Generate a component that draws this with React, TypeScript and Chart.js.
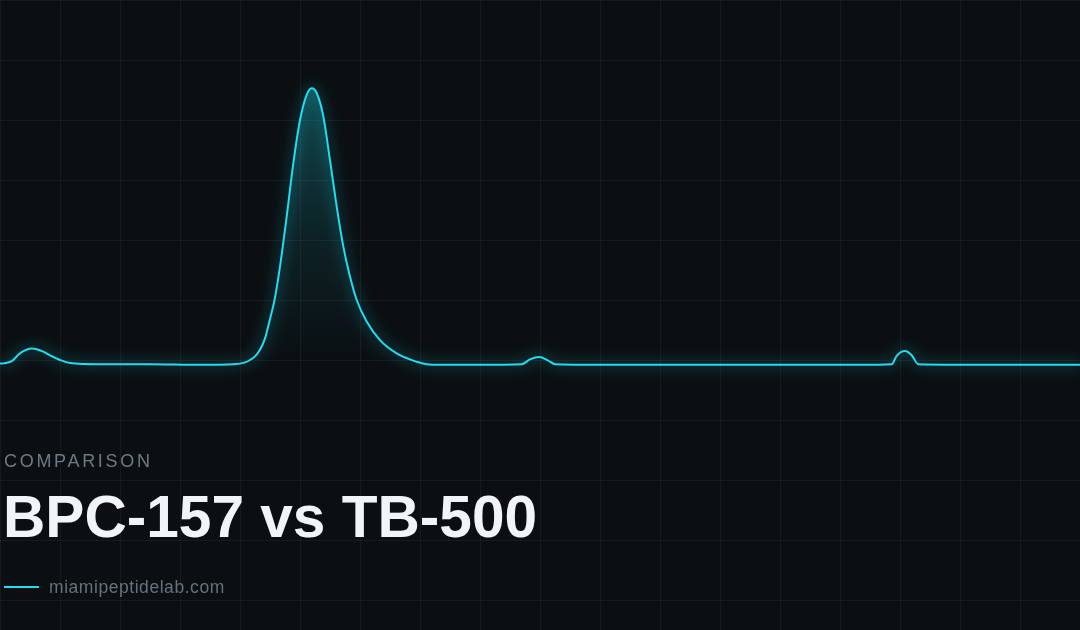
import React, { useEffect, useRef } from "react";
import { Chart, registerables } from "chart.js";

Chart.register(...registerables);

// Retention time (min) and detector signal (mAU)
const retentionTimes: number[] = [
  0, 0.1, 0.195, 0.333, 0.528, 0.722, 0.85, 1.0, 1.167, 1.667, 2.5, 3.333, 3.9, 4.083, 4.167,
  4.25, 4.333, 4.417, 4.5, 4.583, 4.667, 4.778, 4.889, 5.0, 5.111, 5.195, 5.278, 5.389, 5.5,
  5.611, 5.722, 5.833, 5.945, 6.111, 6.333, 6.611, 6.945, 7.111, 7.333, 8.0, 8.695, 8.833,
  8.988, 9.138, 9.25, 10.0, 14.333, 14.862, 14.945, 15.083, 15.195, 15.305, 16.333, 18.0,
];
const signalValues: number[] = [
  394, 395, 398, 411, 419, 414, 407, 400, 395, 393, 393, 392, 393, 396, 400,
  406, 417, 436, 468, 504, 556, 639, 728, 800, 842, 853, 845, 806, 733,
  656, 589, 539, 500, 464, 433, 411, 397, 393, 392, 392, 393, 401,
  405, 399, 393, 392, 392, 393, 407, 415, 408, 393, 392, 392,
];

const eyebrow = "COMPARISON";
const title = "BPC-157 vs TB-500";
const legendLabel = "miamipeptidelab.com";

const CYAN = "#22dcef";
const BG = "#0b0f12";
const GRID = "rgba(148,163,184,0.08)";
const FONT = '"Liberation Sans", Arial, Helvetica, sans-serif';

const glowPlugin = {
  id: "glow",
  beforeDatasetDraw(chart: any, args: any) {
    if (args.index === 1) {
      const c = chart.ctx;
      c.save();
      c.shadowColor = "rgba(34,220,239,0.8)";
      c.shadowBlur = 14;
    }
  },
  afterDatasetDraw(chart: any, args: any) {
    if (args.index === 1) {
      chart.ctx.restore();
    }
  },
};

export default function App() {
  const canvasRef = useRef<HTMLCanvasElement | null>(null);

  useEffect(() => {
    const canvas = canvasRef.current;
    if (!canvas) return;
    const points = retentionTimes.map((t, i) => ({ x: t, y: signalValues[i] }));

    const chart = new Chart(canvas, {
      type: "line",
      data: {
        datasets: [
          {
            data: points,
            borderWidth: 0,
            pointRadius: 0,
            fill: "start",
            cubicInterpolationMode: "monotone",
            backgroundColor: (ctx: any) => {
              const ch = ctx.chart;
              const area = ch.chartArea;
              if (!area) return "rgba(0,0,0,0)";
              const ys = ch.scales.y;
              const top = ys.getPixelForValue(860);
              const base = ys.getPixelForValue(392);
              const g = ch.ctx.createLinearGradient(0, top, 0, base);
              g.addColorStop(0, "rgba(34,220,239,0.28)");
              g.addColorStop(0.55, "rgba(34,220,239,0.09)");
              g.addColorStop(1, "rgba(34,220,239,0)");
              return g;
            },
          },
          {
            data: points,
            borderColor: CYAN,
            borderWidth: 2,
            pointRadius: 0,
            fill: false,
            cubicInterpolationMode: "monotone",
          },
        ],
      },
      options: {
        animation: false,
        responsive: false,
        maintainAspectRatio: false,
        layout: { padding: 0 },
        plugins: { legend: { display: false }, tooltip: { enabled: false } },
        scales: {
          x: {
            type: "linear",
            min: 0,
            max: 18,
            ticks: { display: false, stepSize: 1 },
            grid: { color: GRID, lineWidth: 1, drawTicks: false },
            border: { display: false },
          },
          y: {
            type: "linear",
            min: -50,
            max: 1000,
            ticks: { display: false, stepSize: 100 },
            grid: { color: GRID, lineWidth: 1, drawTicks: false },
            border: { display: false },
          },
        },
      },
      plugins: [glowPlugin],
    });
    return () => chart.destroy();
  }, []);

  return (
    <div
      style={{
        position: "fixed",
        left: 0,
        top: 0,
        width: 1080,
        height: 630,
        background: BG,
        overflow: "hidden",
        fontFamily: FONT,
      }}
    >
      <canvas
        ref={canvasRef}
        width={1080}
        height={630}
        style={{ position: "absolute", left: 0, top: 0, width: 1080, height: 630 }}
      />
      <div
        style={{
          position: "absolute",
          left: 4,
          top: 451.5,
          fontSize: 18,
          lineHeight: "18px",
          letterSpacing: "2.7px",
          color: "#6b7b84",
          whiteSpace: "nowrap",
        }}
      >
        {eyebrow}
      </div>
      <div
        style={{
          position: "absolute",
          left: 3,
          top: 488.4,
          fontSize: 58.6,
          lineHeight: "58.6px",
          fontWeight: 700,
          color: "#f1f5f9",
          whiteSpace: "nowrap",
        }}
      >
        {title}
      </div>
      <div
        style={{
          position: "absolute",
          left: 4,
          top: 586,
          width: 35,
          height: 2,
          background: CYAN,
        }}
      />
      <div
        style={{
          position: "absolute",
          left: 49,
          top: 579.2,
          fontSize: 17.5,
          lineHeight: "17.5px",
          letterSpacing: "0.55px",
          color: "#64727b",
          whiteSpace: "nowrap",
        }}
      >
        {legendLabel}
      </div>
    </div>
  );
}
